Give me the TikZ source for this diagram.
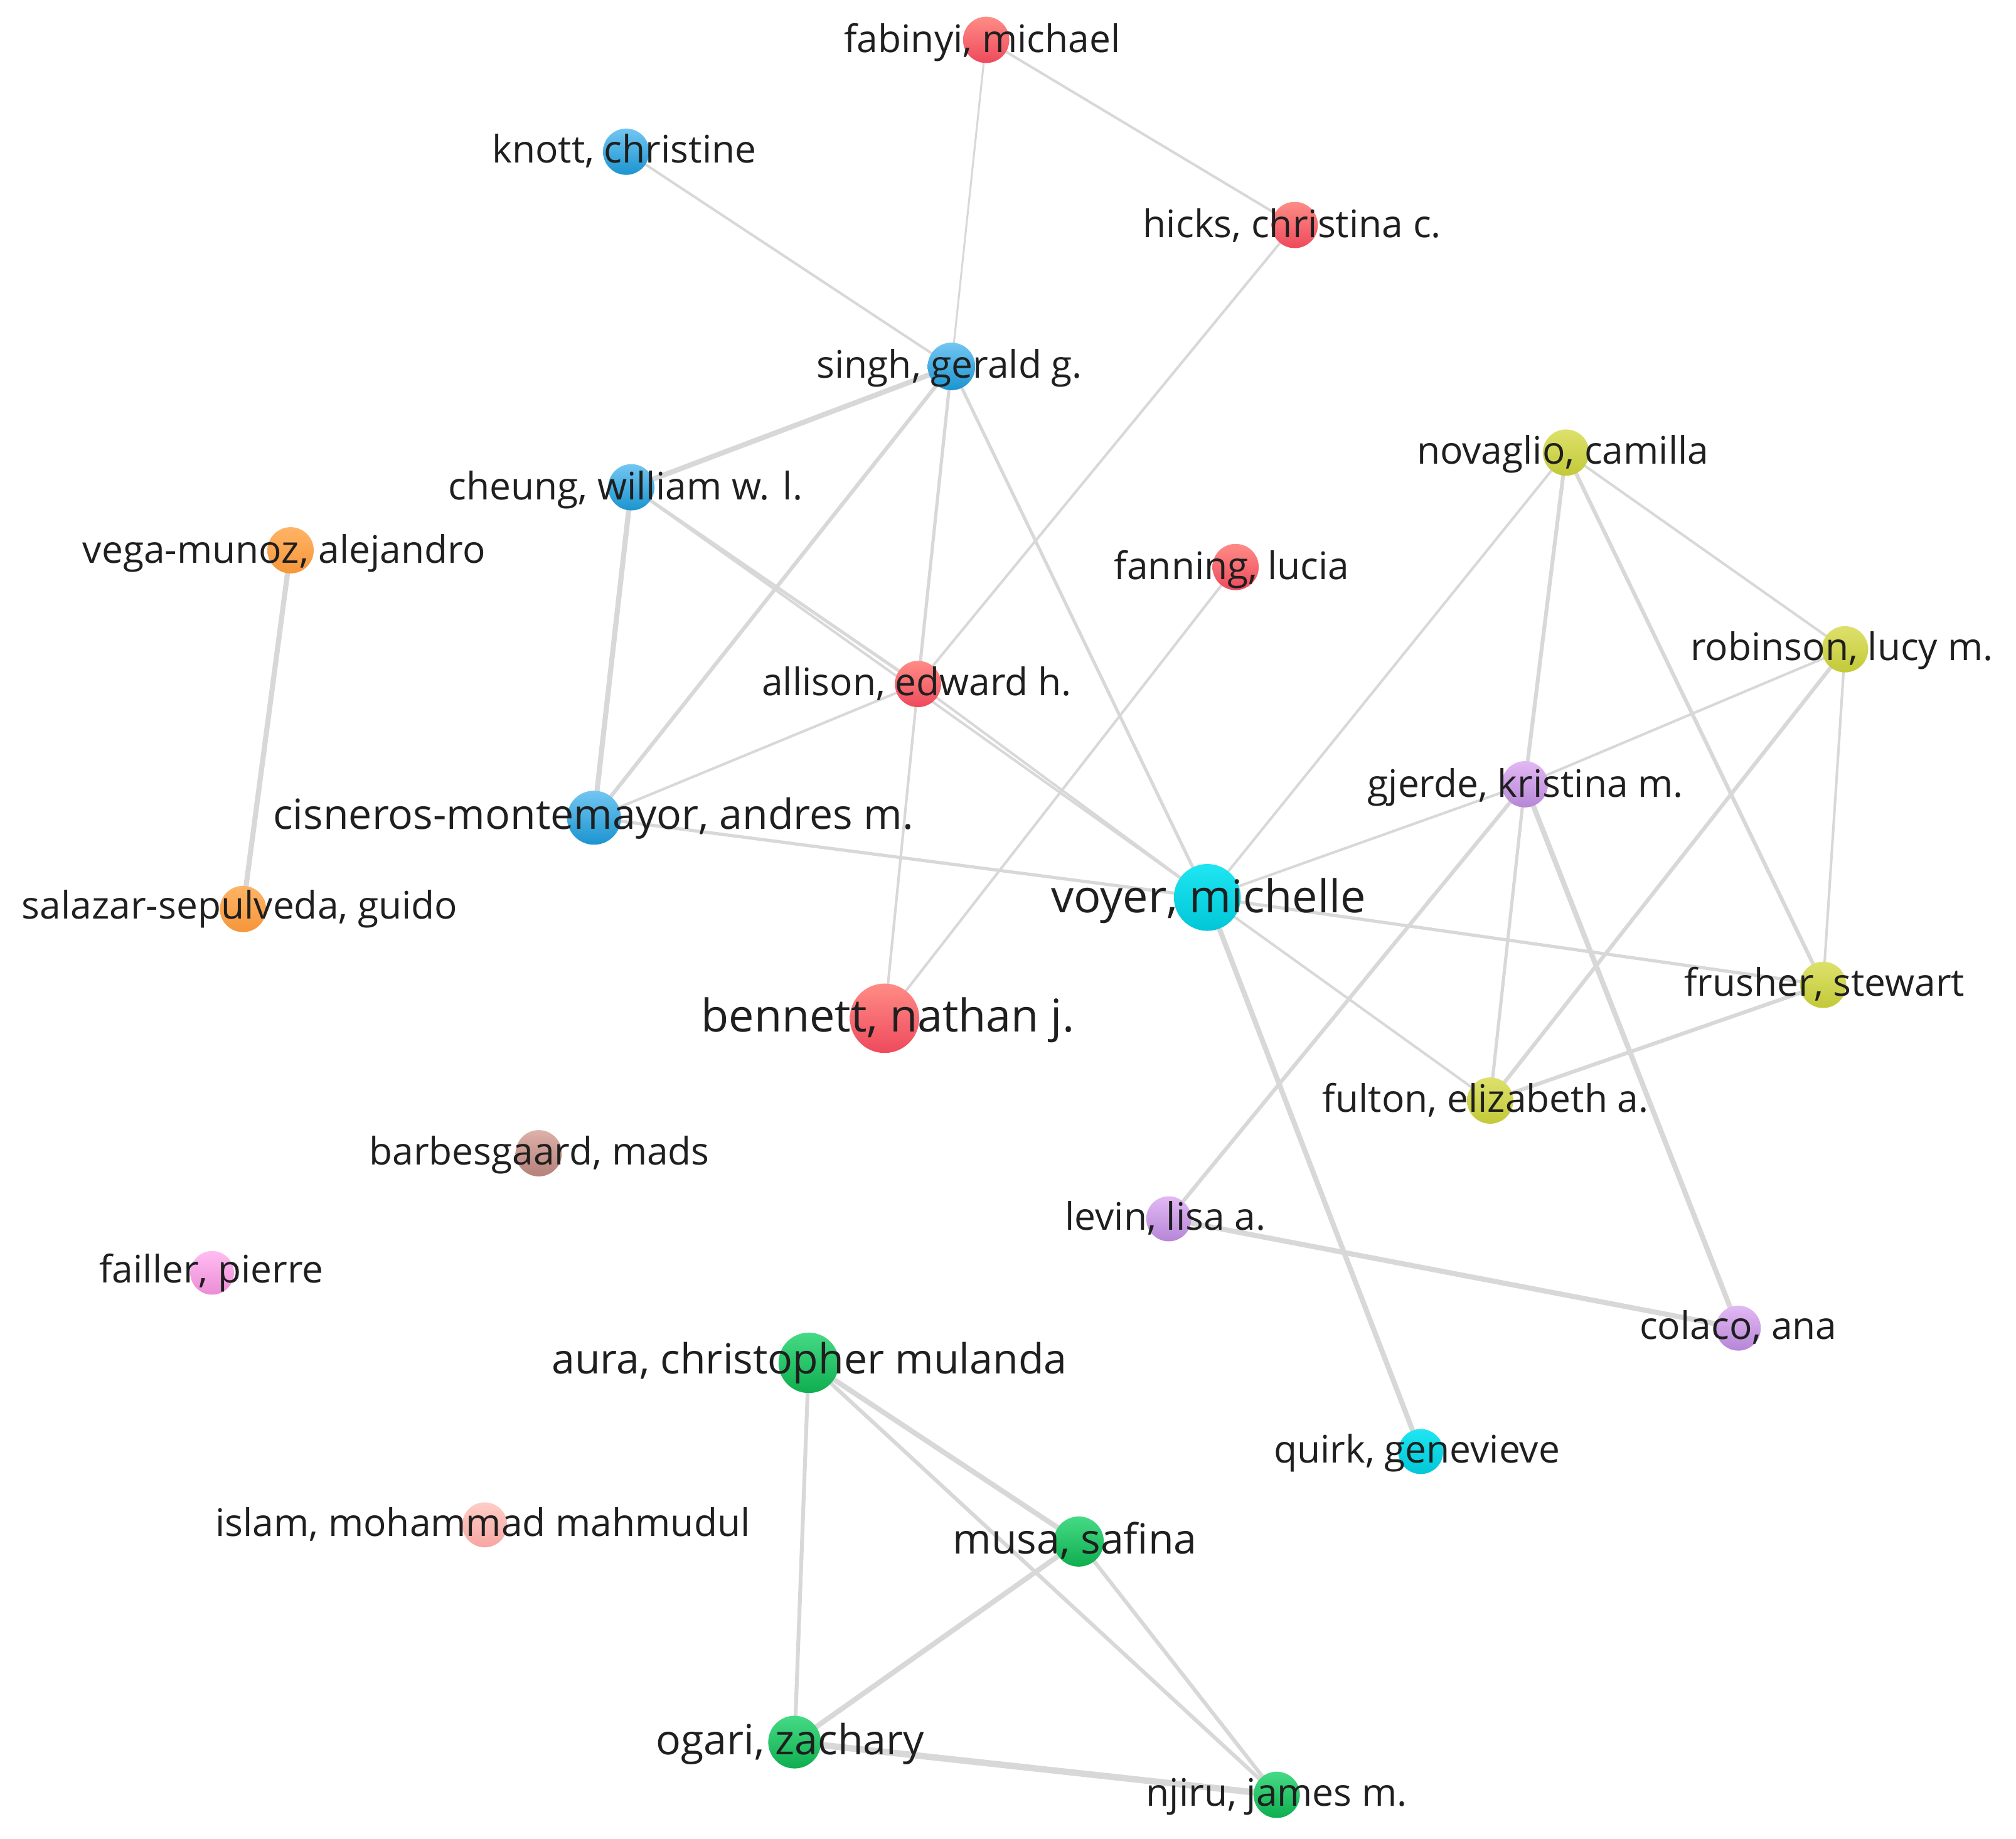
\documentclass[tikz,border=0pt]{standalone}
\usepackage{fontspec}
\setmainfont{Open Sans}
\usetikzlibrary{backgrounds}
\definecolor{edgec}{HTML}{D8D8D8}
\definecolor{redT}{HTML}{FF8C86}\definecolor{redB}{HTML}{EE4A5C}
\definecolor{bluT}{HTML}{72C6F2}\definecolor{bluB}{HTML}{1C94CF}
\definecolor{cyaT}{HTML}{1FE6F2}\definecolor{cyaB}{HTML}{00C6D6}
\definecolor{yelT}{HTML}{DDE16C}\definecolor{yelB}{HTML}{C3C938}
\definecolor{purT}{HTML}{E2B8F4}\definecolor{purB}{HTML}{B686D6}
\definecolor{oraT}{HTML}{FFB466}\definecolor{oraB}{HTML}{F5963A}
\definecolor{broT}{HTML}{DDB0A8}\definecolor{broB}{HTML}{B5817A}
\definecolor{pinT}{HTML}{FFBDF2}\definecolor{pinB}{HTML}{EC8CD6}
\definecolor{salT}{HTML}{FFCDC6}\definecolor{salB}{HTML}{F7A6A2}
\definecolor{greT}{HTML}{45DA85}\definecolor{greB}{HTML}{0FAE4F}
\begin{document}
\begin{tikzpicture}[x=0.02cm,y=-0.02cm,
  dot/.style={circle,inner sep=0pt,minimum size=#1*0.02cm},
  cRed/.style={top color=redT,bottom color=redB},
  cBlu/.style={top color=bluT,bottom color=bluB},
  cCya/.style={top color=cyaT,bottom color=cyaB},
  cYel/.style={top color=yelT,bottom color=yelB},
  cPur/.style={top color=purT,bottom color=purB},
  cOra/.style={top color=oraT,bottom color=oraB},
  cBro/.style={top color=broT,bottom color=broB},
  cPin/.style={top color=pinT,bottom color=pinB},
  cSal/.style={top color=salT,bottom color=salB},
  cGre/.style={top color=greT,bottom color=greB},
  lblN/.style={font=\fontsize{16.8}{20}\selectfont,anchor=base,yshift=-5.6pt,inner sep=0pt,text=black!88},
  lblM/.style={font=\fontsize{18.4}{22}\selectfont,anchor=base,yshift=-6.1pt,inner sep=0pt,text=black!88},
  lblL/.style={font=\fontsize{20}{24}\selectfont,anchor=base,yshift=-6.6pt,inner sep=0pt,text=black!88},
  lnk/.style={draw=edgec,line width=#1*0.569pt}]
\useasboundingbox (0,0) rectangle (1568,1430);
% circles
\node[dot=36,cRed] (fab) at (767,31) {};
\node[dot=36,cBlu] (kno) at (487,118) {};
\node[dot=36,cRed] (hic) at (1007,175) {};
\node[dot=37,cBlu] (sin) at (740,285) {};
\node[dot=36,cYel] (nov) at (1218,352) {};
\node[dot=36,cBlu] (che) at (491,379) {};
\node[dot=36,cOra] (veg) at (226,428) {};
\node[dot=36,cRed] (fan) at (961,441) {};
\node[dot=36,cYel] (rob) at (1435,505) {};
\node[dot=36,cRed] (all) at (714,532) {};
\node[dot=36,cPur] (gje) at (1186,610) {};
\node[dot=42,cBlu] (cis) at (462,636) {};
\node[dot=52,cCya] (voy) at (939,698) {};
\node[dot=36,cOra] (sal) at (189,707) {};
\node[dot=36,cYel] (fru) at (1418,766) {};
\node[dot=54,cRed] (ben) at (688,792) {};
\node[dot=36,cYel] (ful) at (1159,856) {};
\node[dot=36,cBro] (bar) at (419,897) {};
\node[dot=35,cPur] (lev) at (909,948) {};
\node[dot=34,cPin] (fai) at (165,990) {};
\node[dot=35,cPur] (col) at (1352,1033) {};
\node[dot=47,cGre] (aur) at (629,1060) {};
\node[dot=35,cCya] (qui) at (1105,1129) {};
\node[dot=35,cSal] (isl) at (377,1186) {};
\node[dot=39,cGre] (mus) at (839,1199) {};
\node[dot=41,cGre] (oga) at (618,1355) {};
\node[dot=36,cGre] (nji) at (993,1396) {};
% links
\begin{pgfonlayer}{background}
\draw[lnk=1.5] (fab.center) -- (sin.center);
\draw[lnk=2] (fab.center) -- (hic.center);
\draw[lnk=2] (kno.center) -- (sin.center);
\draw[lnk=2] (hic.center) -- (all.center);
\draw[lnk=4] (sin.center) -- (che.center);
\draw[lnk=3] (sin.center) -- (cis.center);
\draw[lnk=2.5] (sin.center) -- (all.center);
\draw[lnk=2.5] (sin.center) -- (voy.center);
\draw[lnk=4] (che.center) -- (cis.center);
\draw[lnk=2.5] (che.center) -- (all.center);
\draw[lnk=2] (che.center) -- (voy.center);
\draw[lnk=2] (all.center) -- (voy.center);
\draw[lnk=2] (all.center) -- (cis.center);
\draw[lnk=2] (all.center) -- (ben.center);
\draw[lnk=2] (fan.center) -- (ben.center);
\draw[lnk=4] (veg.center) -- (sal.center);
\draw[lnk=2.5] (cis.center) -- (voy.center);
\draw[lnk=2] (nov.center) -- (voy.center);
\draw[lnk=3] (nov.center) -- (gje.center);
\draw[lnk=2] (nov.center) -- (rob.center);
\draw[lnk=3] (nov.center) -- (fru.center);
\draw[lnk=2] (rob.center) -- (gje.center);
\draw[lnk=3] (rob.center) -- (ful.center);
\draw[lnk=2] (rob.center) -- (fru.center);
\draw[lnk=2] (gje.center) -- (voy.center);
\draw[lnk=3] (gje.center) -- (lev.center);
\draw[lnk=2.5] (gje.center) -- (ful.center);
\draw[lnk=4] (gje.center) -- (col.center);
\draw[lnk=2.5] (voy.center) -- (fru.center);
\draw[lnk=2] (voy.center) -- (ful.center);
\draw[lnk=4] (voy.center) -- (qui.center);
\draw[lnk=3] (fru.center) -- (ful.center);
\draw[lnk=4] (lev.center) -- (col.center);
\draw[lnk=4] (aur.center) -- (mus.center);
\draw[lnk=3] (aur.center) -- (nji.center);
\draw[lnk=3] (aur.center) -- (oga.center);
\draw[lnk=4] (mus.center) -- (oga.center);
\draw[lnk=3] (mus.center) -- (nji.center);
\draw[lnk=5] (oga.center) -- (nji.center);
\end{pgfonlayer}
% labels
\node[lblN] (fab-t) at (764,31) {fabinyi, michael};
\node[lblN] (kno-t) at (485.5,117) {knott, christine};
\node[lblN] (hic-t) at (1005,175) {hicks, christina c.};
\node[lblN] (sin-t) at (738.5,284) {singh, gerald g.};
\node[lblN] (nov-t) at (1215.5,351) {novaglio, camilla};
\node[lblN] (che-t) at (486.5,379) {cheung, william w. l.};
\node[lblN] (veg-t) at (221,428) {vega-munoz, alejandro};
\node[lblN] (fan-t) at (958,441) {fanning, lucia};
\node[lblN] (rob-t) at (1432.5,504) {robinson, lucy m.};
\node[lblN] (all-t) at (713,531) {allison, edward h.};
\node[lblN] (gje-t) at (1186.5,610) {gjerde, kristina m.};
\node[lblM] (cis-t) at (461.5,634) {cisneros-montemayor, andres m.};
\node[lblL] (voy-t) at (940,698) {voyer, michelle};
\node[lblN] (sal-t) at (186.5,705) {salazar-sepulveda, guido};
\node[lblN] (fru-t) at (1419,765) {frusher, stewart};
\node[lblL] (ben-t) at (690.5,791) {bennett, nathan j.};
\node[lblN] (ful-t) at (1155.5,855) {fulton, elizabeth a.};
\node[lblN] (bar-t) at (419.5,896) {barbesgaard, mads};
\node[lblN] (lev-t) at (906.5,947) {levin, lisa a.};
\node[lblN] (fai-t) at (164.5,988) {failler, pierre};
\node[lblN] (col-t) at (1352,1032) {colaco, ana};
\node[lblM] (aur-t) at (629.5,1058) {aura, christopher mulanda};
\node[lblN] (qui-t) at (1102,1128) {quirk, genevieve};
\node[lblN] (isl-t) at (375.5,1185) {islam, mohammad mahmudul};
\node[lblM] (mus-t) at (836,1198) {musa, safina};
\node[lblM] (oga-t) at (614.5,1354) {ogari, zachary};
\node[lblN] (nji-t) at (993,1395) {njiru, james m.};
\end{tikzpicture}
\end{document}
